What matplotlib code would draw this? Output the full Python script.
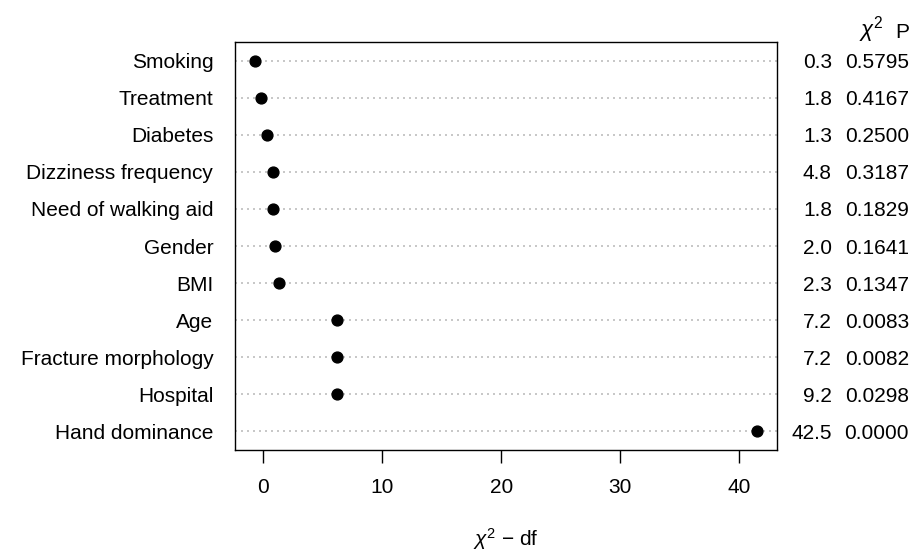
import matplotlib
matplotlib.use('Agg')
import matplotlib.pyplot as plt
import numpy as np

plt.rcParams['font.family'] = ['Liberation Sans', 'DejaVu Sans']
plt.rcParams['mathtext.fontset'] = 'custom'
plt.rcParams['mathtext.rm'] = 'Liberation Sans'
plt.rcParams['mathtext.it'] = 'Liberation Sans:italic'

# factors, top to bottom
factors = ['Smoking', 'Treatment', 'Diabetes', 'Dizziness frequency',
           'Need of walking aid', 'Gender', 'BMI', 'Age',
           'Fracture morphology', 'Hospital', 'Hand dominance']
chi2 = [0.3, 1.8, 1.3, 4.8, 1.8, 2.0, 2.3, 7.2, 7.2, 9.2, 42.5]
df = [1, 2, 1, 4, 1, 1, 1, 1, 1, 3, 1]
pvals = ['0.5795', '0.4167', '0.2500', '0.3187', '0.1829', '0.1641',
         '0.1347', '0.0083', '0.0082', '0.0298', '0.0000']

vals = np.array(chi2) - np.array(df)
n = len(factors)
ypos = np.arange(n, 0, -1)
fs = 15

W, H = 912, 554
fig = plt.figure(figsize=(W / 100, H / 100), dpi=100)
ax = fig.add_axes([235 / W, 1 - 450 / H, (777 - 235) / W, (450 - 42) / H])

for y in ypos:
    ax.axhline(y, color='#bdbdbd', lw=1.2, ls=(0, (1.2, 2.4)), zorder=1)
ax.plot(vals, ypos, 'o', color='black', ms=7.8, zorder=3)

rng = vals.max() - vals.min()
ax.set_xlim(vals.min() - 0.04 * rng, vals.max() + 0.04 * rng)
ax.set_ylim(0.5, n + 0.5)
ax.set_xticks([0, 10, 20, 30, 40])
ax.tick_params(axis='x', length=9.4, width=1, labelsize=fs, pad=11, colors='black')
ax.set_yticks([])
for s in ax.spines.values():
    s.set_linewidth(1)
    s.set_color('black')

for y, lab, c, p in zip(ypos, factors, chi2, pvals):
    ax.text(-0.04, y, lab, transform=ax.get_yaxis_transform(), ha='right',
            va='center_baseline', fontsize=fs)
    yf = ax.transData.transform((0, y))[1] / fig.dpi / (H / 100)
    fig.text(832 / W, yf, '%.1f' % c, ha='right', va='center_baseline', fontsize=fs)
    fig.text(909 / W, yf, p, ha='right', va='center_baseline', fontsize=fs)

fig.text(871 / W, 1 - 30 / H, r'$\chi^{2}$', ha='center', va='center', fontsize=fs + 1)
fig.text(902 / W, 1 - 31 / H, 'P', ha='center', va='center_baseline', fontsize=fs)
fig.text(506 / W, 1 - 539 / H, r'$\chi^{2}$ $-$ df', ha='center', va='center', fontsize=fs)

fig.savefig('out.png', dpi=100)
